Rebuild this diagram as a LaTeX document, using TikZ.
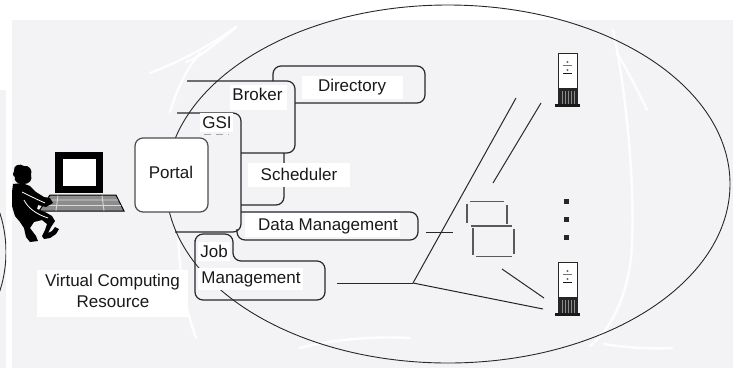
\documentclass[tikz,border=0pt]{standalone}
\usepackage{fontspec}
\setmainfont{Liberation Sans}
\definecolor{paper}{RGB}{243,243,245}
\definecolor{ink}{RGB}{40,40,44}
\begin{document}
\begin{tikzpicture}[x=1pt,y=-1pt,
  box/.style={draw=ink, line width=1.2pt, rounded corners=8pt},
  wire/.style={draw=ink, line width=1pt},
  lbl/.style={font=\fontsize{17}{20}\selectfont, text=black!90, inner sep=0pt, anchor=base},
  patch/.style={fill=white},
  scribble/.style={draw=white, line width=2.4pt, line cap=round, opacity=0.9},
  disk/.style={draw=black!65, line width=1.5pt},
  server/.pic={
    \draw[fill=white, draw=black!85, line width=0.9pt] (0,0) rectangle (19,52);
    \fill[black!85] (0,35) rectangle (19,52);
    \foreach \k in {4,7,10,13,16} \draw[black!45, line width=0.6pt] (\k,38) -- (\k,51);
    \fill[black!90] (-3,51) rectangle (22,54);
    \fill[black!60] (9.5,9) circle (1.1);
    \draw[black!55, line width=0.8pt] (5,12) -- (14,12);
    \fill[black!60] (9.5,17) circle (1.1);
    \draw[black!90, line width=1.3pt] (5,20.5) -- (14,20.5);
  }
]
\useasboundingbox (0,0) rectangle (733,368);

% paper background
\fill[paper] (12,20) rectangle (733,368);
\fill[paper] (0,90) rectangle (6,368);

% light pen strokes on the paper
\draw[scribble] (150,73) .. controls (185,60) and (215,42) .. (236,27);
\draw[scribble] (236,27) .. controls (215,45) and (195,60) .. (186,62);
\draw[scribble] (200,53) .. controls (190,65) and (180,80) .. (170,112);
\draw[scribble] (178,235) .. controls (180,280) and (186,310) .. (196,338);
\draw[scribble] (613,30) .. controls (628,100) and (636,200) .. (631,258) .. controls (626,300) and (610,330) .. (590,346);
\draw[scribble] (617,53) .. controls (630,75) and (640,95) .. (647,110);
\draw[scribble] (604,344) .. controls (630,348) and (650,349) .. (672,348);
\draw[scribble] (300,348) .. controls (330,340) and (370,336) .. (410,338);

% neighbouring domain, cut by the page edge
\begin{scope}
  \clip (0,90) rectangle (6,368);
  \draw[ink, line width=0.9pt] (-90,252) ellipse [x radius=96pt, y radius=110pt];
\end{scope}

% the virtual organisation
\draw[ink, line width=0.9pt] (448,184) ellipse [x radius=282pt, y radius=179pt];

% middleware service layers
\draw[box] (177,113) -- (241,113) -- (241,232) -- (175,232);
\draw[box] (187,81) -- (295,81) -- (295,153) -- (241,153);
\draw[box] (273,81) -- (273,66) -- (425,66) -- (425,103) -- (295,103);
\draw[box] (284,153) -- (284,205) -- (241,205);
\draw[box] (241,212) -- (418,212) -- (418,240) -- (237,240) -- (237,229);
\draw[box] (195,240) -- (195,300) -- (325,300) -- (325,261) -- (233,261) -- (233,234) -- (195,234) -- (195,244);

% portal
\node[draw=black!70, fill=white, line width=1.2pt, rounded corners=8pt,
      minimum width=73pt, minimum height=74pt, inner sep=0pt] (portalbox) at (171.5,175) {};
\node[lbl] (portal) at (171,178) {Portal};

% labels on white patches
\fill[patch] (230,85) rectangle (287,110);
\node[lbl] (broker) at (257.5,100) {Broker};
\fill[patch] (200,113) rectangle (233,132);
\node[lbl] (gsi) at (217,128) {GSI};
\draw[black!35, line width=1pt, dash pattern=on 7pt off 5pt] (204,134) -- (229,134);
\fill[patch] (302,76) rectangle (403,99);
\node[lbl] (directory) at (352,91) {Directory};
\fill[patch] (248,163) rectangle (350,187);
\node[lbl] (scheduler) at (299,180) {Scheduler};
\fill[patch] (245,213) rectangle (400,237);
\node[lbl] (datamgmt) at (328,230) {Data Management};
\fill[patch] (198,242) rectangle (230,261);
\node[lbl] (job) at (214,257) {Job};
\fill[patch] (198,268) rectangle (303,290);
\node[lbl] (jobmgmt) at (251,283) {Management};
\fill[patch] (37,270) rectangle (188,317);
\node[lbl] (vcr1) at (112.5,286) {Virtual Computing};
\node[lbl] (vcr2) at (113,307) {Resource};

% network links
\coordinate (dmout) at (426,232);
\coordinate (dmend) at (453,232);
\coordinate (jmout) at (337,283);
\coordinate (hub) at (413,283);
\coordinate (hubtop) at (516,98);
\coordinate (hubbot) at (543,309);
\coordinate (stlinkA) at (493,183);
\coordinate (stlinkB) at (541,103);
\coordinate (stlinkC) at (502,269);
\coordinate (stlinkD) at (544,298);
\draw[wire] (dmout) -- (dmend);
\draw[wire] (jmout) -- (hub);
\draw[wire] (hub) -- (hubtop);
\draw[wire] (hub) -- (hubbot);
\draw[wire] (stlinkA) -- (stlinkB);
\draw[wire] (stlinkC) -- (stlinkD);

% storage units
\draw[disk] (470,201.5) -- (504,201.5);
\draw[disk] (466.8,204) -- (466.8,223);
\draw[disk] (506.8,205) -- (506.8,224);
\draw[disk] (471,226) -- (511.5,226);
\draw[disk] (472.8,228) -- (472.8,255);
\draw[disk] (514,229) -- (514,254);
\draw[disk] (476,256.7) -- (512,256.7);

% compute servers
\pic (serverA) at (558,53) {server};
\pic (serverB) at (558,262) {server};
\foreach \yy in {201,219,237} \fill[black!85] (564,\yy-2) rectangle (568.5,\yy+2.5);

% user at a workstation
\fill[black] (55,152) rectangle (103,193);
\fill[white] (63,159) rectangle (96,186);
\draw[black, fill=black!45, line width=1pt] (50,195) -- (116,195) -- (124,211) -- (39,211) -- cycle;
\draw[white!85!black, line width=0.9pt] (47,200) -- (118,200) (44,205.5) -- (121,205.5)
  (58,195.5) -- (56,210.5) (102,195.5) -- (104,210.5);
\fill[black] (14,171) .. controls (13,165) and (20,163) .. (24,166)
  .. controls (29,165) and (33,170) .. (31,175) .. controls (33,180) and (29,184) .. (24,184)
  .. controls (19,185) and (13,181) .. (15,177) .. controls (12,175) and (13,173) .. (14,171) -- cycle;
\fill[black] (13,184) -- (22,183) -- (30,186) -- (36,192) -- (44,197) -- (50,198) -- (53,203)
  -- (46,207) -- (38,205) -- (37,209) -- (45,212) -- (52,216) -- (55,221) -- (51,227)
  -- (48,233) -- (52,231) -- (55,227) -- (59,229) -- (56,234) -- (50,238) -- (44,239)
  -- (42,236) -- (45,230) -- (47,224) -- (42,220) -- (34,222) -- (30,228) -- (36,236)
  -- (38,241) -- (30,242) -- (26,237) -- (24,228) -- (20,222) -- (15,216) -- (12,206)
  -- (12,192) -- cycle;
\draw[white, line width=0.8pt] (22,192) .. controls (28,195) and (36,199) .. (45,203);
\draw[white, line width=0.8pt] (24,200) .. controls (28,208) and (36,214) .. (48,218);
\end{tikzpicture}
\end{document}
